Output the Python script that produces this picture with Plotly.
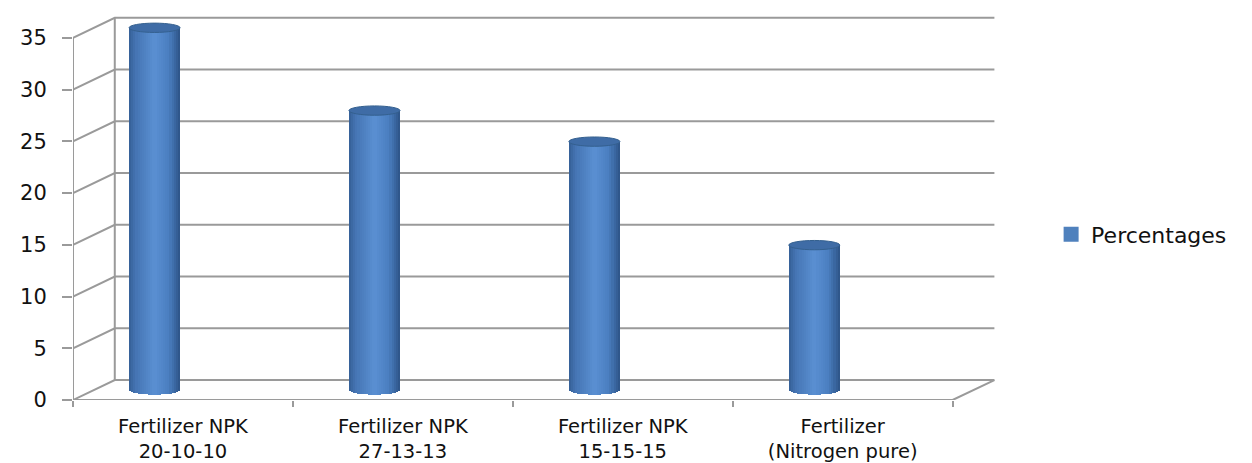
import math
import plotly.graph_objects as go

# ---- data ----
categories = ["Fertilizer NPK<br>20-10-10", "Fertilizer NPK<br>27-13-13",
              "Fertilizer NPK<br>15-15-15", "Fertilizer<br>(Nitrogen pure)"]
values = [35, 27, 24, 14]
series_name = "Percentages"
y_ticks = [0, 5, 10, 15, 20, 25, 30, 35]

# ---- 3D look parameters (oblique projection in data units) ----
DX = 0.19      # depth shift in category units
DV = 1.93      # depth shift in value units
X_LEFT, X_RIGHT = -0.5, 3.5
BAR_W = 0.232
BAR_OFF = -0.245
CAP_H = 0.45
GRID = "#9a9a9a"
TXT = "#111111"
FONT = "DejaVu Sans"


def hex2rgb(h):
    h = h.lstrip("#")
    return [int(h[i:i + 2], 16) for i in (0, 2, 4)]


stops = [(0.0, "#355f96"), (0.15, "#4676b5"), (0.5, "#5a8fd2"),
         (0.78, "#4a7ec0"), (1.0, "#2c5385")]


def shade(p):
    for (p0, c0), (p1, c1) in zip(stops[:-1], stops[1:]):
        if p0 <= p <= p1:
            f = (p - p0) / (p1 - p0)
            a, b = hex2rgb(c0), hex2rgb(c1)
            return "rgb(%d,%d,%d)" % tuple(round(a[i] + (b[i] - a[i]) * f) for i in range(3))
    return stops[-1][1]


xs = list(range(len(categories)))
fig = go.Figure()

# cylinder made of shaded strips
n = 24
c = DV / 2
for k in range(n):
    p = (k + 0.5) / n
    u = p * 2 - 1
    b = c - CAP_H * math.sqrt(max(0.0, 1 - u * u))
    fig.add_trace(go.Bar(
        x=xs, y=[v + c - b for v in values], base=[b] * len(values),
        width=BAR_W / n + 0.0015, offset=BAR_OFF + k * BAR_W / n,
        marker=dict(color=shade(p), line=dict(width=0)),
        name=series_name, legendgroup="p", showlegend=False,
        hoverinfo="skip"))

# legend entry
fig.add_trace(go.Scatter(x=[None], y=[None], mode="markers", name=series_name,
                         legendgroup="p",
                         marker=dict(symbol="square", size=15, color="#4f81bd"),
                         showlegend=True))

shapes = []
for t in y_ticks:
    shapes.append(dict(type="path", xref="x", yref="y", layer="below",
                       path=f"M {X_LEFT},{t} L {X_LEFT + DX},{t + DV} L {X_RIGHT + DX},{t + DV}",
                       line=dict(color=GRID, width=2)))
shapes.append(dict(type="line", xref="x", yref="y", layer="below",
                   x0=X_LEFT, x1=X_LEFT, y0=-0.3, y1=y_ticks[-1],
                   line=dict(color=GRID, width=2)))
shapes.append(dict(type="line", xref="x", yref="y", layer="below",
                   x0=X_LEFT + DX, x1=X_LEFT + DX, y0=DV, y1=y_ticks[-1] + DV,
                   line=dict(color=GRID, width=2)))
shapes.append(dict(type="path", xref="x", yref="y", layer="below",
                   path=f"M {X_LEFT},0 L {X_RIGHT},0 L {X_RIGHT + DX},{DV}",
                   line=dict(color=GRID, width=2)))
for x, v in zip(xs, values):
    shapes.append(dict(type="circle", xref="x", yref="y", layer="above",
                       x0=x + BAR_OFF, x1=x + BAR_OFF + BAR_W,
                       y0=v + c - CAP_H, y1=v + c + CAP_H,
                       fillcolor="#3f6ca6", line=dict(color="#34608f", width=1)))

fig.update_layout(
    template="none",
    width=1244, height=455,
    margin=dict(l=65, r=251, t=7, b=63, autoexpand=False),
    paper_bgcolor="white", plot_bgcolor="white",
    barmode="overlay", bargap=0,
    shapes=shapes,
    showlegend=True,
    legend=dict(x=1.054, y=0.43, xanchor="left", yanchor="middle",
                font=dict(family=FONT, size=22, color=TXT),
                bgcolor="rgba(0,0,0,0)"),
    xaxis=dict(range=[X_LEFT, X_RIGHT + 0.22], tickvals=xs, ticktext=categories,
               automargin=False,
               showgrid=False, zeroline=False, showline=False,
               ticks="", ticklabelstandoff=12,
               tickfont=dict(family=FONT, size=19.5, color=TXT),
               minor=dict(tick0=-0.5, dtick=1, ticks="outside", ticklen=6,
                          tickcolor=GRID, tickwidth=2, showgrid=False)),
    yaxis=dict(range=[0, 37.2], tickvals=y_ticks, showgrid=False, zeroline=False,
               automargin=False,
               showline=False, ticks="outside", ticklen=10, tickcolor=GRID,
               tickwidth=2, ticklabelstandoff=11,
               tickfont=dict(family=FONT, size=21, color=TXT)),
)

fig.write_html("out.html")
